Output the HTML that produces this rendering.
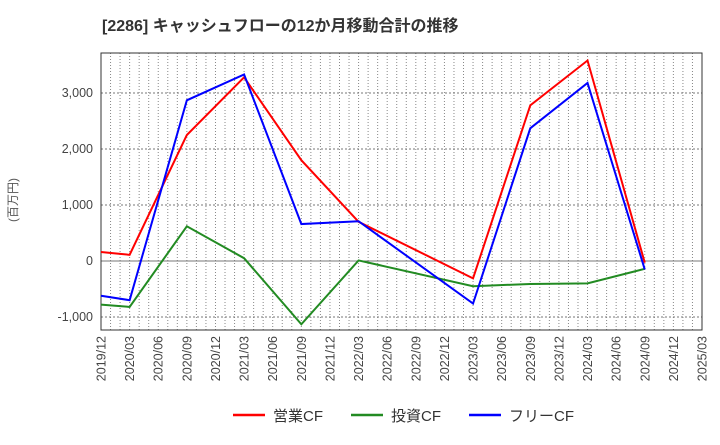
<!DOCTYPE html>
<html><head><meta charset="utf-8"><style>
body{margin:0;background:#fff;width:720px;height:440px;overflow:hidden}
text{font-family:"Liberation Sans","Noto Sans CJK JP",sans-serif}
</style></head><body>
<svg id="chart" width="720" height="440" xmlns="http://www.w3.org/2000/svg">
<text x="102" y="31" font-size="16" font-weight="bold" fill="#333">[2286]  キャッシュフローの12か月移動合計の推移</text>
<text transform="translate(17,200) rotate(-90)" text-anchor="middle" font-size="12" fill="#555">(百万円)</text>
<g id="grid"></g><g id="axes"></g><g id="series"></g>
<g id="legend"></g>
</svg>
<script>
const xLabels=["2019/12","2020/03","2020/06","2020/09","2020/12","2021/03","2021/06","2021/09","2021/12","2022/03","2022/06","2022/09","2022/12","2023/03","2023/06","2023/09","2023/12","2024/03","2024/06","2024/09","2024/12","2025/03"];
const yTicks=[-1000,0,1000,2000,3000];
const yTickLabels=["-1,000","0","1,000","2,000","3,000"];
const dataIdx=[0,1,3,5,7,9,13,15,17,19];
const opCF=[160,110,2250,3280,1800,700,-310,2780,3580,-30];
const invCF=[-780,-820,620,50,-1130,10,-450,-410,-400,-140];
const freeCF=[-620,-700,2870,3330,660,710,-760,2370,3180,-150];
const L=101,R=702,T=53,B=330;
const NS="http://www.w3.org/2000/svg";
const xs=i=>L+(R-L)*i/(xLabels.length-1);
const ys=v=>261-v*0.056;
function mk(tag,attrs,parent){const e=document.createElementNS(NS,tag);for(const k in attrs)e.setAttribute(k,attrs[k]);document.getElementById(parent).appendChild(e);return e;}
for(let m=0;m<=63;m++){const x=L+(R-L)*m/63;const g=mk('line',{x1:x,x2:x,y1:T,y2:B,stroke:'#888','stroke-width':1,'stroke-dasharray':'1,2'},'grid');}
yTicks.forEach((v,i)=>{const y=ys(v);const g=mk('line',{x1:L,x2:R,y1:y,y2:y,stroke:v===0?'#777':'#777','stroke-width':1,'stroke-dasharray':v===0?'':'2,2'},'grid');
const t=mk('text',{x:L-8,y:y+4,'text-anchor':'end','font-size':12.5,fill:'#444'},'axes');t.textContent=yTickLabels[i];});
const fr=mk('rect',{x:L,y:T,width:R-L,height:B-T,fill:'none',stroke:'#333','stroke-width':1},'axes');
xLabels.forEach((s,i)=>{const x=xs(i);const t=mk('text',{transform:`translate(${x+4.5},${B+6}) rotate(-90)`,'text-anchor':'end','font-size':12.5,fill:'#444'},'axes');t.textContent=s;});
[[opCF,'#f00','operating-cf-line'],[invCF,'#228b22','investing-cf-line'],[freeCF,'#00f','free-cf-line']].forEach(([d,c,n])=>{const p=mk('polyline',{points:d.map((v,i)=>xs(dataIdx[i])+','+ys(v)).join(' '),fill:'none',stroke:c,'stroke-width':2},'series');});
[['営業CF','#f00',233],['投資CF','#228b22',351],['フリーCF','#00f',469]].forEach(([s,c,x])=>{const l=mk('line',{x1:x,x2:x+32,y1:415,y2:415,stroke:c,'stroke-width':2.5},'legend');const t=mk('text',{x:x+40,y:421,'font-size':15,fill:'#333'},'legend');t.textContent=s;});
</script>
</body></html>
